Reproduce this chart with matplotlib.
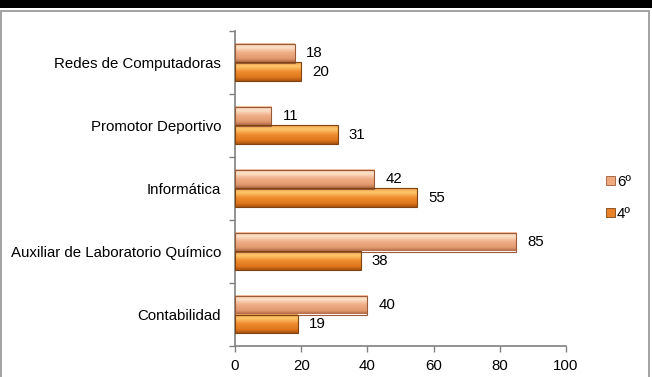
import matplotlib
matplotlib.use("Agg")
import matplotlib.pyplot as plt
from matplotlib.patches import Rectangle
from matplotlib.colors import LinearSegmentedColormap
import numpy as np

categories = ["Contabilidad", "Auxiliar de Laboratorio Químico", "Informática",
              "Promotor Deportivo", "Redes de Computadoras"]
serie_6 = [40, 85, 42, 11, 18]
serie_4 = [19, 38, 55, 31, 20]
series_names = ["6º", "4º"]
xticks = [0, 20, 40, 60, 80, 100]

plt.rcParams['font.family'] = ['Liberation Sans', 'DejaVu Sans']
FS = 10.8
W, H = 652, 377

fig = plt.figure(figsize=(6.52, 3.77), dpi=100, facecolor='white')
fig.patches.append(Rectangle((0, 1 - 8/H), 1, 8/H, transform=fig.transFigure,
                             facecolor='black', edgecolor='none', zorder=0))
frame = '#a4a4a4'
fig.patches.append(Rectangle((0, 1 - 12/H), 650/W, 2/H, transform=fig.transFigure,
                             facecolor=frame, edgecolor='none', linewidth=0, zorder=0))
fig.patches.append(Rectangle((0, 0), 2/W, 1 - 10/H, transform=fig.transFigure,
                             facecolor=frame, edgecolor='none', linewidth=0, zorder=0))
fig.patches.append(Rectangle((648/W, 0), 2/W, 1 - 10/H, transform=fig.transFigure,
                             facecolor=frame, edgecolor='none', linewidth=0, zorder=0))

ax = fig.add_axes([235/W, 1 - 346/H, (566 - 235)/W, (346 - 31)/H])
y = np.arange(len(categories))
h = 0.29
c6 = '#EEA97E'
c4 = '#E8822A'
cmap6 = LinearSegmentedColormap.from_list('g6', [(0, '#F2C09C'), (0.22, '#FCE2CA'), (0.5, '#F0AE86'),
                                                 (0.82, '#E29A70'), (1, '#B06A46')])
cmap4 = LinearSegmentedColormap.from_list('g4', [(0, '#F0A050'), (0.22, '#FFC86C'), (0.5, '#F08C30'),
                                                 (0.82, '#DE761C'), (1, '#A8520F')])
grad = np.linspace(0, 1, 64).reshape(-1, 1)

b6 = ax.barh(y + h/2, serie_6, height=h, facecolor='none', edgecolor='#9a5a38', linewidth=0.8, zorder=3)
b4 = ax.barh(y - h/2, serie_4, height=h, facecolor='none', edgecolor='#7e430f', linewidth=0.8, zorder=3)

for bars, cmap in ((b6, cmap6), (b4, cmap4)):
    for bar in bars:
        x0, yb = bar.get_x(), bar.get_y()
        ax.imshow(grad, cmap=cmap, aspect='auto', origin='upper', interpolation='bicubic',
                  extent=(x0, x0 + bar.get_width(), yb, yb + bar.get_height()), zorder=2)

for bars, vals in ((b6, serie_6), (b4, serie_4)):
    for bar, v in zip(bars, vals):
        ax.annotate(f"{v}", (bar.get_width(), bar.get_y() + bar.get_height()/2),
                    xytext=(8, 0), textcoords='offset points', va='center', ha='left',
                    fontsize=FS, color='black')

ax.set_xlim(0, 100)
ax.set_ylim(-0.5, len(categories) - 0.5)
ax.set_xticks(xticks)
ax.set_xticklabels([str(t) for t in xticks], fontsize=FS)
ax.set_yticks(y)
ax.set_yticklabels(categories, fontsize=FS)
ax.set_yticks(np.arange(len(categories) + 1) - 0.5, minor=True)
ax.tick_params(axis='y', which='major', length=0, pad=10)
ax.tick_params(axis='y', which='minor', length=4, color='#808080', width=1)
ax.tick_params(axis='x', length=4, color='#808080', width=1, pad=5)
for s in ('top', 'right'):
    ax.spines[s].set_visible(False)
for s in ('left', 'bottom'):
    ax.spines[s].set_color('#808080')
    ax.spines[s].set_linewidth(1.2)

handles = [Rectangle((0, 0), 1, 1, facecolor=c6, edgecolor='#9a5a38', linewidth=0.6),
           Rectangle((0, 0), 1, 1, facecolor=c4, edgecolor='#7e430f', linewidth=0.6)]
fig.legend(handles=handles, labels=series_names, loc='center left',
           bbox_to_anchor=(592/W, 1 - 198/H), frameon=False, fontsize=FS,
           handlelength=0.6, handleheight=0.6, handletextpad=0.15, labelspacing=1.2)

fig.savefig("out.png", dpi=100, facecolor='white')
